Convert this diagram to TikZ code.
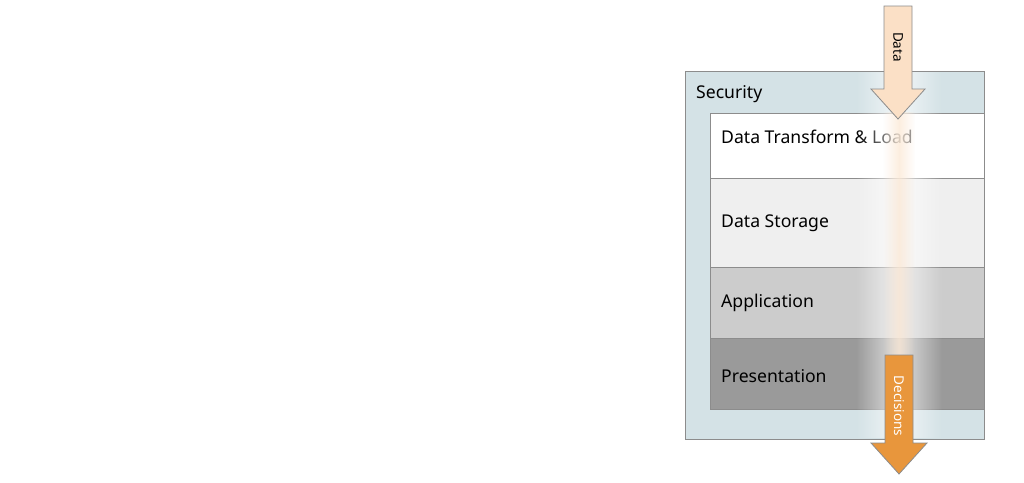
\documentclass[tikz,border=0pt]{standalone}
\usepackage{fontspec}
\setmainfont{Noto Sans}
\usetikzlibrary{fadings}
\definecolor{secfill}{HTML}{D4E2E6}
\definecolor{edge}{HTML}{8C8C8C}
\definecolor{l1}{HTML}{FFFFFF}
\definecolor{l2}{HTML}{EFEFEF}
\definecolor{l3}{HTML}{CCCCCC}
\definecolor{l4}{HTML}{9A9A9A}
\definecolor{peach}{HTML}{FBE0C6}
\definecolor{orangearrow}{HTML}{E8963C}
\tikzfading[name=midglow, left color=transparent!100, right color=transparent!100, middle color=transparent!0]
\tikzset{
  layer/.style={draw=edge, line width=0.9pt},
  lbl/.style={anchor=west, inner sep=0pt, font=\fontsize{17.6}{20}\selectfont, text=black},
  arr/.style={draw=edge, line width=0.8pt, line join=miter},
  arrlbl/.style={inner sep=0pt, rotate=-90, font=\fontsize{13.5}{15}\selectfont}
}
\begin{document}
\begin{tikzpicture}[x=1pt,y=-1pt]
\useasboundingbox (0,0) rectangle (1024,482);
% security frame
\draw[layer, fill=secfill] (685,71) rectangle (984,439);
\node[lbl] (sec) at (696,94) {Security};
% layers
\draw[layer, fill=l1] (710,113) rectangle (984,178);
\draw[layer, fill=l2] (710,178) rectangle (984,267);
\draw[layer, fill=l3] (710,267) rectangle (984,338);
\draw[layer, fill=l4] (710,338) rectangle (984,409);
\node[lbl] (dtl) at (721,137) {Data Transform \& Load};
\node[lbl] (dst) at (721,223) {Data Storage};
\node[lbl] (app) at (721,303) {Application};
\node[lbl] (pre) at (721,376) {Presentation};
% glow band
\fill[white, opacity=0.7, path fading=midglow] (856,72) rectangle (942,438);
\fill[peach, opacity=0.55, path fading=midglow] (883,112) rectangle (915,408);
% Data arrow
\coordinate (dtip) at (898,119);
\filldraw[arr, fill=peach] (884,6) -- (912,6) -- (912,89) -- (925,89) -- (dtip) -- (871,89) -- (884,89) -- cycle;
\node[arrlbl] (datalbl) at (898,47) {Data};
% Decisions arrow
\coordinate (ctip) at (899,474);
\filldraw[arr, fill=orangearrow] (885,355) -- (913,355) -- (913,443) -- (927,443) -- (ctip) -- (871,443) -- (885,443) -- cycle;
\node[arrlbl, text=white] (declbl) at (899,406) {Decisions};
\end{tikzpicture}
\end{document}
